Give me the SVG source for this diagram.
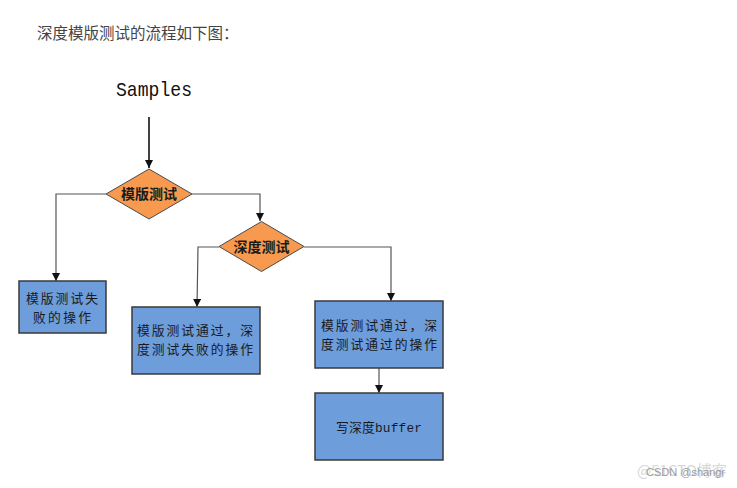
<svg xmlns="http://www.w3.org/2000/svg" width="737" height="488" viewBox="0 0 737 488">
<defs>
<style>
.dia{fill:#F79A50;stroke:#4a4a4a;stroke-width:1}
.box{fill:#6E9DDB;stroke:#3a3a3a;stroke-width:1.5}
.con{fill:none;stroke:#555;stroke-width:1.2}
.cjk{font-family:"Noto Sans CJK SC","Liberation Sans",sans-serif;font-size:12.8px;fill:#1a1a1a}
.dt{font-family:"Noto Sans CJK SC",sans-serif;font-size:14px;font-weight:bold;fill:#1a1a1a;text-anchor:middle}
</style>
<marker id="arr" viewBox="0 0 10 10" refX="10" refY="5" markerWidth="8" markerHeight="8" markerUnits="userSpaceOnUse" orient="auto">
<path d="M0,0 L10,5 L0,10 Z" fill="#111"/>
</marker>
</defs>
<rect width="737" height="488" fill="#fff"/>
<text x="37" y="39" font-family="Noto Sans CJK SC,sans-serif" font-size="15.5" fill="#444">深度模版测试的流程如下图：</text>
<text x="116" y="96" font-family="Liberation Mono,monospace" font-size="21" textLength="76" lengthAdjust="spacingAndGlyphs" fill="#111">Samples</text>
<g id="connectors">
<line x1="149" y1="117" x2="149" y2="168" stroke="#111" stroke-width="1.6" marker-end="url(#arr)"/>
<polyline class="con" points="106,194 56,194 56,281" marker-end="url(#arr)"/>
<polyline class="con" points="192,194 260,194 260,221" marker-end="url(#arr)"/>
<polyline class="con" points="219,247 198,247 197,307" marker-end="url(#arr)"/>
<polyline class="con" points="304,247 391,247 391,301" marker-end="url(#arr)"/>
<line class="con" x1="379" y1="368" x2="379" y2="393" marker-end="url(#arr)"/>
</g>
<g id="d1">
<polygon class="dia" points="149,169 192,194 149,219 106,194"/>
<text class="dt" x="149" y="199">模版测试</text>
</g>
<g id="d2">
<polygon class="dia" points="261.5,221.5 304,246.5 261.5,271.5 219,246.5"/>
<text class="dt" x="261.5" y="251.5">深度测试</text>
</g>
<g id="b1">
<rect class="box" x="19" y="281" width="87" height="52"/>
<text class="cjk" x="26" y="302.5" textLength="72">模版测试失</text>
<text class="cjk" x="33" y="321.5" textLength="58">败的操作</text>
</g>
<g id="b2">
<rect class="box" x="132" y="307" width="128" height="67"/>
<text class="cjk" x="137" y="334.5" textLength="116">模版测试通过，深</text>
<text class="cjk" x="137" y="353.5" textLength="116">度测试失败的操作</text>
</g>
<g id="b3">
<rect class="box" x="315" y="301" width="128" height="67"/>
<text class="cjk" x="321" y="329.5" textLength="116">模版测试通过，深</text>
<text class="cjk" x="321" y="348.5" textLength="116">度测试通过的操作</text>
</g>
<g id="b4">
<rect class="box" x="315" y="393" width="128" height="67"/>
<text x="336" y="431.5" class="cjk" textLength="86">写深度<tspan font-family="Liberation Mono,monospace">buffer</tspan></text>
</g>
<text x="637" y="476" font-family="Noto Sans CJK SC,sans-serif" font-size="15" fill="#d8d8d8">@51CTO博客</text>
<text x="646" y="476" font-family="Liberation Sans,sans-serif" font-size="11" fill="#9a9a9a">CSDN @shangr</text>
</svg>
